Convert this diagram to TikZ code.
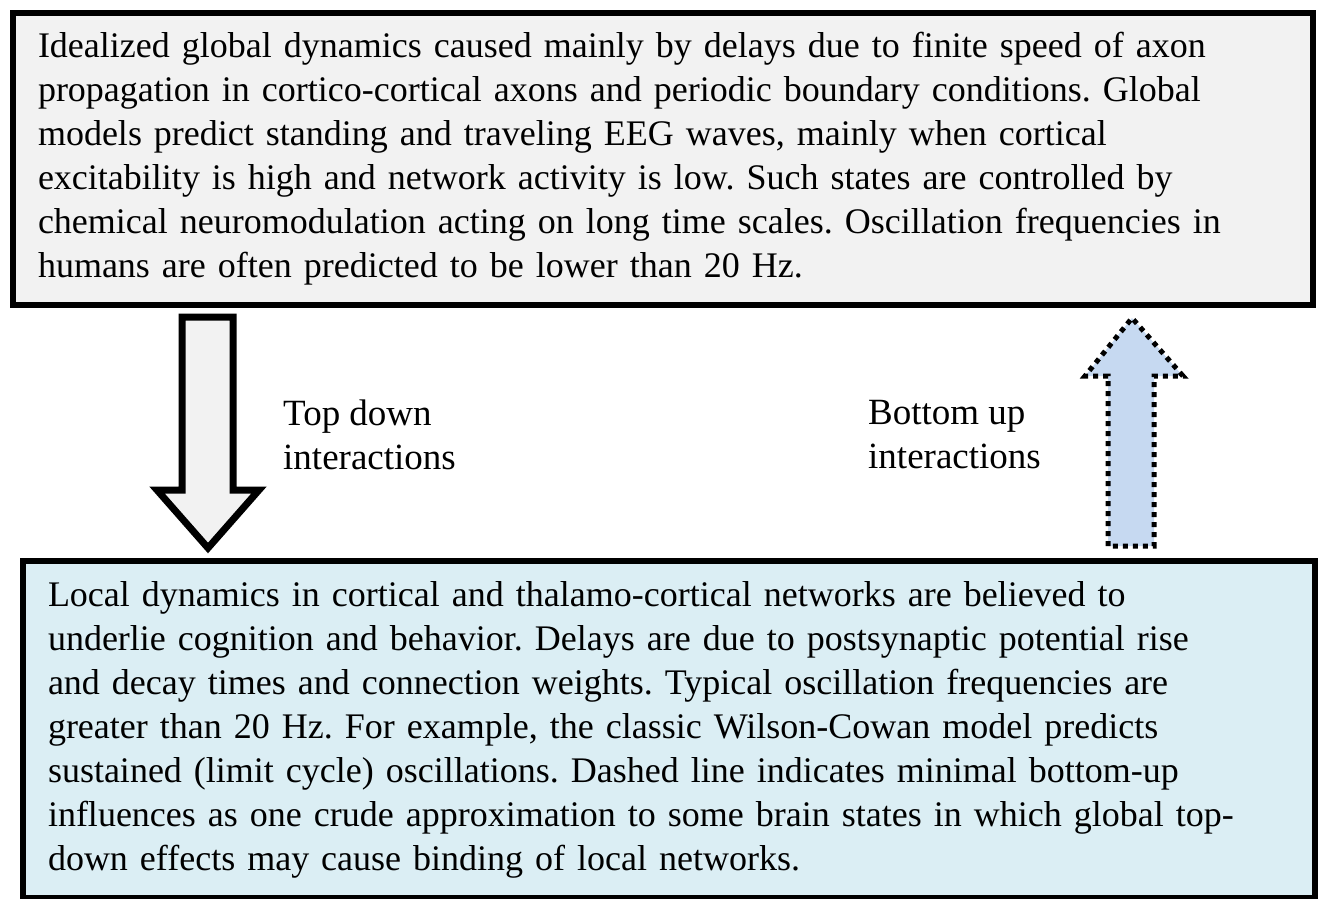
\documentclass[tikz,border=0pt]{standalone}
\usepackage{fontspec}
\setmainfont{Liberation Serif}
\frenchspacing

\definecolor{globalgray}{HTML}{F2F2F2}
\definecolor{localblue}{HTML}{DBEEF4}
\definecolor{arrowblue}{HTML}{C6D9F1}

\tikzset{
  textbox/.style={draw=black, line width=6pt, align=left, anchor=north west,
    inner xsep=25pt, inner ysep=0pt, font=\fontsize{36}{44}\selectfont},
  label/.style={align=left, anchor=north west, inner sep=0pt,
    font=\fontsize{37}{44}\selectfont},
  downarrow/.style={draw=black, line width=7pt, fill=globalgray, line join=miter},
  uparrow/.style={draw=black, line width=5pt, fill=arrowblue, dash pattern=on 5pt off 5pt}
}

\begin{document}
\begin{tikzpicture}[x=1pt,y=-1pt]
\useasboundingbox (0,0) rectangle (1318,899);

% global box
\node[textbox, fill=globalgray, minimum width=1300pt, minimum height=292pt, text width=1250pt] (global) at (10,10) {%
Idealized global dynamics caused mainly by delays due to finite speed of axon\\
propagation in cortico-cortical axons and periodic boundary conditions. Global\\
models predict standing and traveling EEG waves, mainly when cortical\\
excitability is high and network activity is low. Such states are controlled by\\
chemical neuromodulation acting on long time scales. Oscillation frequencies in\\
humans are often predicted to be lower than 20 Hz.};

% local box
\node[textbox, fill=localblue, minimum width=1292pt, minimum height=337pt, text width=1242pt] (local) at (20,558) {%
Local dynamics in cortical and thalamo-cortical networks are believed to\\
underlie cognition and behavior. Delays are due to postsynaptic potential rise\\
and decay times and connection weights. Typical oscillation frequencies are\\
greater than 20 Hz. For example, the classic Wilson-Cowan model predicts\\
sustained (limit cycle) oscillations. Dashed line indicates minimal bottom-up\\
influences as one crude approximation to some brain states in which global top-\\
down effects may cause binding of local networks.};

% arrows
\draw[downarrow] (182,317) -- (233,317) -- (233,490) -- (259,490) -- (208,548)
  -- (157,490) -- (182,490) -- cycle;
\draw[uparrow] (1108,546) -- (1108,376) -- (1085,376) -- (1132,318) -- (1183,376)
  -- (1154,376) -- (1154,546) -- cycle;

% labels
\node[label] (topdown) at (283,400) {Top down\\interactions};
\node[label] (bottomup) at (868,400) {Bottom up\\interactions};
\end{tikzpicture}
\end{document}
